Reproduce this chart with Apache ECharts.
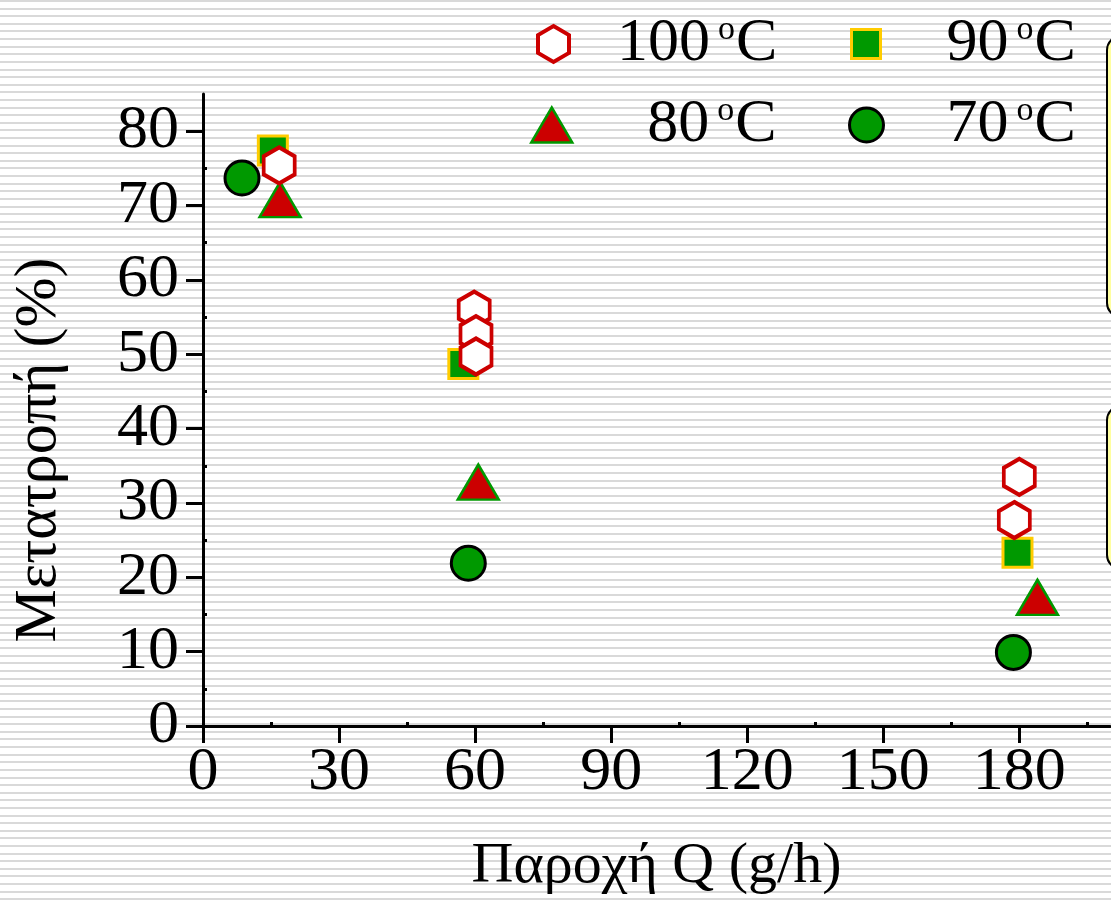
<!DOCTYPE html>
<html>
<head>
<meta charset="utf-8">
<title>Μετατροπή – Παροχή</title>
<script src="https://cdn.jsdelivr.net/npm/echarts@6/dist/echarts.min.js"></script>
<style>
  html, body { margin: 0; padding: 0; }
  #chart {
    width: 1111px;
    height: 906px;
    background-color: #ffffff;
    background-image: repeating-linear-gradient(to bottom, #d9d9d9 0px, #d9d9d9 2px, #ffffff 2px, #ffffff 7.613px);
  }
</style>
</head>
<body>
<div id="chart"></div>
<script>
// Axis ticks
const xTicks = [0, 30, 60, 90, 120, 150, 180];
const xMinorTicks = [15, 45, 75, 105, 135, 165, 195];
const yTicks = [0, 10, 20, 30, 40, 50, 60, 70, 80];
const yMinorTicks = [5, 15, 25, 35, 45, 55, 65, 75];

// Temperatures (°C) shown in the legend
const temps = ['100', '90', '80', '70'];

// Conversion (%) against feed rate Q (g/h), one array per temperature
const conv100 = [[16.8, 75.4], [59.8, 56.0], [60.2, 52.7], [60.2, 49.7], [180.0, 33.5], [178.9, 27.7]];
const conv90 = [[15.4, 77.4], [57.4, 48.7], [179.6, 23.3]];
const conv80 = [[17.0, 70.8], [60.7, 32.8], [184.0, 17.3]];
const conv70 = [[8.6, 73.7], [58.5, 21.9], [178.7, 9.9]];

const FONT = "'Liberation Serif', 'Times New Roman', serif";
const RED = '#cc0000';
const GREEN = '#009900';
const GOLD = '#ffcc00';
const HEX = 'path://M0,-1L0.866,-0.5L0.866,0.5L0,1L-0.866,0.5L-0.866,-0.5Z';

const seriesName = t => t + ' °C';

// Marker styles shared by the series and their legend icons
const style100 = { color: '#ffffff', borderColor: RED, borderWidth: 4, opacity: 1 };
const style90 = { color: GREEN, borderColor: GOLD, borderWidth: 3, opacity: 1 };
const style80 = { color: RED, borderColor: GREEN, borderWidth: 2.5, opacity: 1 };
const style70 = { color: GREEN, borderColor: '#000', borderWidth: 3, opacity: 1 };

const legendRich = {
  n: { fontFamily: FONT, fontSize: 62, color: '#000', lineHeight: 62 },
  s: { fontFamily: FONT, fontSize: 34, color: '#000', lineHeight: 50, verticalAlign: 'top', padding: [0, 1, 0, 8] }
};

function legendItem(t, icon, w, h, left, top, gap, itemStyle) {
  return {
    data: [seriesName(t)],
    icon: icon,
    itemWidth: w,
    itemHeight: h,
    left: left,
    top: top,
    padding: 0,
    selectedMode: false,
    itemStyle: itemStyle,
    formatter: () => '{n|' + t + '}{s|o}{n|C}',
    textStyle: { rich: legendRich, padding: [0, 0, 0, gap] }
  };
}

const chart = echarts.init(document.getElementById('chart'), null, { renderer: 'canvas' });

const axisLineStyle = { color: '#000', width: 3 };

chart.setOption({
  animation: false,
  backgroundColor: 'transparent',
  grid: { left: 203, right: 1, top: 94, bottom: 180, containLabel: false },
  legend: [
    legendItem(temps[0], HEX, 31, 36, 536, 13, 43, style100),
    legendItem(temps[1], 'rect', 29, 29, 850, 13, 61, style90),
    legendItem(temps[2], 'triangle', 41, 35, 530, 94, 70, style80),
    legendItem(temps[3], 'circle', 34, 34, 848, 94, 58, style70)
  ],
  xAxis: [
    {
      type: 'value', min: 0, max: 200,
      name: 'Παροχή Q (g/h)', nameLocation: 'middle', nameGap: 112,
      nameTextStyle: { fontFamily: FONT, fontSize: 58, color: '#000' },
      axisLine: { show: true, onZero: false, lineStyle: axisLineStyle },
      axisTick: { show: true, customValues: xTicks, length: 17, lineStyle: { color: '#000', width: 3 } },
      axisLabel: { customValues: xTicks, margin: 16, fontFamily: FONT, fontSize: 62, color: '#000' },
      splitLine: { show: false }
    },
    {
      type: 'value', min: 0, max: 200, position: 'bottom',
      axisLine: { show: false },
      axisTick: { show: true, inside: true, customValues: xMinorTicks, length: 4, lineStyle: { color: '#000', width: 3 } },
      axisLabel: { show: false },
      splitLine: { show: false }
    }
  ],
  yAxis: [
    {
      type: 'value', min: 0, max: 85,
      name: 'Μετατροπή (%)', nameLocation: 'middle', nameGap: 134,
      nameTextStyle: { fontFamily: FONT, fontSize: 60, color: '#000', padding: [0, 80, 0, 0] },
      axisLine: { show: true, onZero: false, lineStyle: axisLineStyle },
      axisTick: { show: true, customValues: yTicks, length: 17, lineStyle: { color: '#000', width: 3 } },
      axisLabel: { customValues: yTicks, margin: 24, padding: [0, 0, 11, 0], fontFamily: FONT, fontSize: 62, color: '#000' },
      splitLine: { show: false }
    },
    {
      type: 'value', min: 0, max: 85, position: 'left',
      axisLine: { show: false },
      axisTick: { show: true, inside: true, customValues: yMinorTicks, length: 4, lineStyle: { color: '#000', width: 3 } },
      axisLabel: { show: false },
      splitLine: { show: false }
    }
  ],
  series: [
    { name: seriesName(temps[1]), type: 'scatter', data: conv90, symbol: 'rect', symbolSize: 29, itemStyle: style90 },
    { name: seriesName(temps[2]), type: 'scatter', data: conv80, symbol: 'triangle', symbolSize: [41, 35], itemStyle: style80 },
    { name: seriesName(temps[3]), type: 'scatter', data: conv70, symbol: 'circle', symbolSize: 34, itemStyle: style70 },
    { name: seriesName(temps[0]), type: 'scatter', data: conv100, symbol: HEX, symbolSize: [31, 36], itemStyle: style100 }
  ],
  graphic: [
    { type: 'rect', left: 1106, top: 35, shape: { width: 40, height: 281, r: 14 }, style: { fill: '#ffffa0', stroke: '#000', lineWidth: 2 } },
    { type: 'rect', left: 1106, top: 405, shape: { width: 40, height: 163, r: 14 }, style: { fill: '#ffffa0', stroke: '#000', lineWidth: 2 } }
  ]
});
</script>
</body>
</html>
